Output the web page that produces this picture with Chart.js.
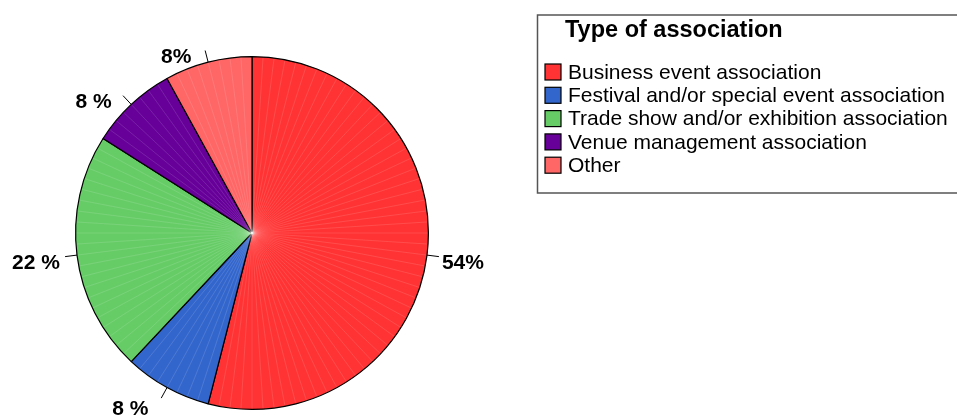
<!DOCTYPE html>
<html>
<head>
<meta charset="utf-8">
<script src="https://cdn.jsdelivr.net/npm/chart.js@4"></script>
<style>
  html, body { margin: 0; padding: 0; background: #fff; }
  #wrap { width: 957px; height: 415px; position: relative; }
</style>
</head>
<body>
<div id="wrap"><canvas id="pieChart"></canvas></div>
<script>
// data
const categories = [
  "Business event association",
  "Festival and/or special event association",
  "Trade show and/or exhibition association",
  "Venue management association",
  "Other"
];
const shares = [54, 8, 22, 8, 8];
const pctLabels = ["54%", "8 %", "22 %", "8 %", "8%"];
const colors = ["#FF3333", "#3366CC", "#66CC66", "#660099", "#FF6666"];
const legendTitle = "Type of association";

// faint radial streaks like the original export (one every percent)
const streaks = {
  id: "streaks",
  afterDatasetDraw(chart) {
    const arc = chart.getDatasetMeta(0).data[0];
    const c = chart.ctx;
    const cx = arc.x, cy = arc.y, r = arc.outerRadius;
    const bounds = [0];
    shares.reduce((a, v) => { bounds.push(a + v); return a + v; }, 0);
    c.save();
    c.strokeStyle = "rgba(255,255,255,0.16)";
    c.lineWidth = 0.8;
    for (let p = 1; p < 100; p++) {
      if (bounds.includes(p)) continue;
      const a = -Math.PI / 2 + p / 100 * Math.PI * 2;
      c.beginPath();
      c.moveTo(cx, cy);
      c.lineTo(cx + Math.cos(a) * (r - 1), cy + Math.sin(a) * (r - 1));
      c.stroke();
    }
    c.restore();
  }
};

// percent labels with short leader lines
const outLabels = {
  id: "outLabels",
  afterDraw(chart) {
    const c = chart.ctx;
    const meta = chart.getDatasetMeta(0);
    c.save();
    c.font = "bold 21px 'Liberation Sans', Arial, sans-serif";
    c.fillStyle = "#000";
    c.strokeStyle = "#000";
    c.lineWidth = 1;
    meta.data.forEach((arc, i) => {
      const mid = (arc.startAngle + arc.endAngle) / 2;
      const dx = Math.cos(mid), dy = Math.sin(mid);
      const r = arc.outerRadius;
      const x0 = arc.x + dx * r, y0 = arc.y + dy * r;
      const x1 = arc.x + dx * (r + 12), y1 = arc.y + dy * (r + 12);
      c.beginPath();
      c.moveTo(x0, y0);
      c.lineTo(x1, y1);
      c.stroke();
      c.textBaseline = "middle";
      let ty = y1 + 7;
      if (dy > 0.7) ty += 4;
      if (dx >= 0) {
        c.textAlign = "left";
        c.fillText(pctLabels[i], x1 + 3, ty);
      } else {
        c.textAlign = "right";
        c.fillText(pctLabels[i], x1 - 4 - Math.abs(dy) * 10, ty);
      }
    });
    c.restore();
  }
};

// boxed legend on the right
const boxLegend = {
  id: "boxLegend",
  afterDraw(chart) {
    const c = chart.ctx;
    c.save();
    c.strokeStyle = "#555";
    c.lineWidth = 1.5;
    c.strokeRect(537.5, 15, 440, 178);
    c.fillStyle = "#000";
    c.textBaseline = "alphabetic";
    c.textAlign = "left";
    c.font = "bold 23.5px 'Liberation Sans', Arial, sans-serif";
    c.fillText(legendTitle, 565, 37);
    c.font = "21px 'Liberation Sans', Arial, sans-serif";
    categories.forEach((name, i) => {
      const yc = 72 + i * 23.3;
      c.fillStyle = colors[i];
      c.fillRect(545, yc - 8, 16, 16);
      c.strokeStyle = "#000";
      c.lineWidth = 1.2;
      c.strokeRect(545, yc - 8, 16, 16);
      c.fillStyle = "#000";
      c.textBaseline = "middle";
      c.fillText(name, 568, yc + 1);
    });
    c.restore();
  }
};

const ctx = document.getElementById("pieChart").getContext("2d");
new Chart(ctx, {
  type: "pie",
  data: {
    labels: categories,
    datasets: [{
      data: shares,
      backgroundColor: colors,
      borderColor: "#000",
      borderWidth: 1.2
    }]
  },
  options: {
    responsive: true,
    maintainAspectRatio: false,
    animation: false,
    layout: { padding: { left: 75, right: 528, top: 56, bottom: 5 } },
    plugins: {
      legend: { display: false },
      tooltip: { enabled: false }
    }
  },
  plugins: [streaks, outLabels, boxLegend]
});
</script>
</body>
</html>
